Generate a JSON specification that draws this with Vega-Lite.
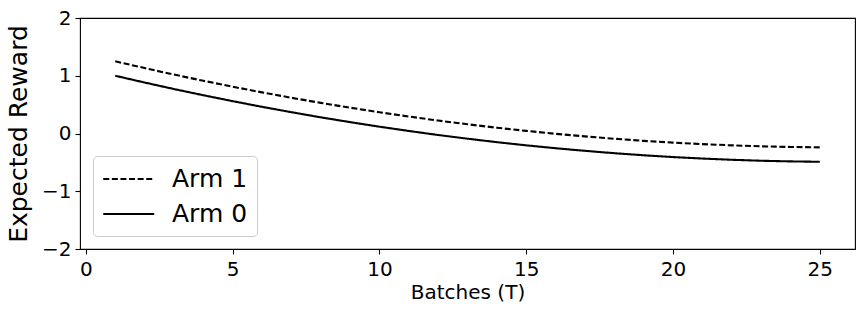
{
  "$schema": "https://vega.github.io/schema/vega-lite/v6.json",
  "width": 775,
  "height": 231,
  "autosize": {"type": "none"},
  "padding": {"left": 80, "top": 18, "right": 10, "bottom": 65},
  "background": "white",
  "config": {
    "font": "DejaVu Sans",
    "view": {"stroke": "black", "strokeWidth": 1.1},
    "axis": {
      "domain": false,
      "grid": false,
      "ticks": true,
      "tickColor": "black",
      "tickSize": 5,
      "tickWidth": 1.1,
      "labelFont": "DejaVu Sans",
      "labelFontSize": 20,
      "labelColor": "black",
      "titleFont": "DejaVu Sans",
      "titleFontWeight": "normal",
      "titleColor": "black"
    },
    "legend": {
      "labelFont": "DejaVu Sans",
      "labelFontSize": 25,
      "labelColor": "black",
      "title": null,
      "orient": "bottom-left",
      "offset": 13,
      "symbolType": "M-1,0H3",
      "symbolSize": 650,
      "symbolStrokeWidth": 2.1,
      "labelOffset": 42,
      "rowPadding": 8,
      "padding": 9,
      "strokeColor": "#cccccc",
      "fillColor": "rgba(255,255,255,0.8)",
      "cornerRadius": 4
    }
  },
  "data": {
    "values": [
      {"batch": 1, "reward": 1.000, "arm": "Arm 0"},
      {"batch": 2, "reward": 0.883, "arm": "Arm 0"},
      {"batch": 3, "reward": 0.770, "arm": "Arm 0"},
      {"batch": 4, "reward": 0.663, "arm": "Arm 0"},
      {"batch": 5, "reward": 0.560, "arm": "Arm 0"},
      {"batch": 6, "reward": 0.462, "arm": "Arm 0"},
      {"batch": 7, "reward": 0.369, "arm": "Arm 0"},
      {"batch": 8, "reward": 0.280, "arm": "Arm 0"},
      {"batch": 9, "reward": 0.197, "arm": "Arm 0"},
      {"batch": 10, "reward": 0.118, "arm": "Arm 0"},
      {"batch": 11, "reward": 0.044, "arm": "Arm 0"},
      {"batch": 12, "reward": -0.026, "arm": "Arm 0"},
      {"batch": 13, "reward": -0.090, "arm": "Arm 0"},
      {"batch": 14, "reward": -0.150, "arm": "Arm 0"},
      {"batch": 15, "reward": -0.205, "arm": "Arm 0"},
      {"batch": 16, "reward": -0.255, "arm": "Arm 0"},
      {"batch": 17, "reward": -0.300, "arm": "Arm 0"},
      {"batch": 18, "reward": -0.341, "arm": "Arm 0"},
      {"batch": 19, "reward": -0.377, "arm": "Arm 0"},
      {"batch": 20, "reward": -0.408, "arm": "Arm 0"},
      {"batch": 21, "reward": -0.434, "arm": "Arm 0"},
      {"batch": 22, "reward": -0.455, "arm": "Arm 0"},
      {"batch": 23, "reward": -0.472, "arm": "Arm 0"},
      {"batch": 24, "reward": -0.483, "arm": "Arm 0"},
      {"batch": 25, "reward": -0.490, "arm": "Arm 0"},
      {"batch": 1, "reward": 1.250, "arm": "Arm 1"},
      {"batch": 2, "reward": 1.133, "arm": "Arm 1"},
      {"batch": 3, "reward": 1.020, "arm": "Arm 1"},
      {"batch": 4, "reward": 0.913, "arm": "Arm 1"},
      {"batch": 5, "reward": 0.810, "arm": "Arm 1"},
      {"batch": 6, "reward": 0.712, "arm": "Arm 1"},
      {"batch": 7, "reward": 0.619, "arm": "Arm 1"},
      {"batch": 8, "reward": 0.530, "arm": "Arm 1"},
      {"batch": 9, "reward": 0.447, "arm": "Arm 1"},
      {"batch": 10, "reward": 0.368, "arm": "Arm 1"},
      {"batch": 11, "reward": 0.294, "arm": "Arm 1"},
      {"batch": 12, "reward": 0.224, "arm": "Arm 1"},
      {"batch": 13, "reward": 0.160, "arm": "Arm 1"},
      {"batch": 14, "reward": 0.100, "arm": "Arm 1"},
      {"batch": 15, "reward": 0.045, "arm": "Arm 1"},
      {"batch": 16, "reward": -0.005, "arm": "Arm 1"},
      {"batch": 17, "reward": -0.050, "arm": "Arm 1"},
      {"batch": 18, "reward": -0.091, "arm": "Arm 1"},
      {"batch": 19, "reward": -0.127, "arm": "Arm 1"},
      {"batch": 20, "reward": -0.158, "arm": "Arm 1"},
      {"batch": 21, "reward": -0.184, "arm": "Arm 1"},
      {"batch": 22, "reward": -0.205, "arm": "Arm 1"},
      {"batch": 23, "reward": -0.222, "arm": "Arm 1"},
      {"batch": 24, "reward": -0.233, "arm": "Arm 1"},
      {"batch": 25, "reward": -0.240, "arm": "Arm 1"}
    ]
  },
  "mark": {"type": "line", "strokeWidth": 2.1, "clip": true},
  "encoding": {
    "x": {
      "field": "batch",
      "type": "quantitative",
      "scale": {"domain": [-0.2, 26.2], "nice": false, "zero": false},
      "axis": {
        "values": [0, 5, 10, 15, 20, 25],
        "title": "Batches (T)",
        "titleFontSize": 20,
        "titlePadding": 3,
        "labelPadding": 5,
        "labelFlush": false
      }
    },
    "y": {
      "field": "reward",
      "type": "quantitative",
      "scale": {"domain": [-2, 2], "nice": false, "zero": false},
      "axis": {
        "values": [-2, -1, 0, 1, 2],
        "title": "Expected Reward",
        "titleFontSize": 25,
        "titlePadding": 10,
        "labelPadding": 4,
        "labelFlush": false
      }
    },
    "color": {
      "field": "arm",
      "type": "nominal",
      "scale": {"domain": ["Arm 1", "Arm 0"], "range": ["black", "black"]}
    },
    "strokeDash": {
      "field": "arm",
      "type": "nominal",
      "scale": {"domain": ["Arm 1", "Arm 0"], "range": [[6, 2.6], [1, 0]]}
    }
  }
}
